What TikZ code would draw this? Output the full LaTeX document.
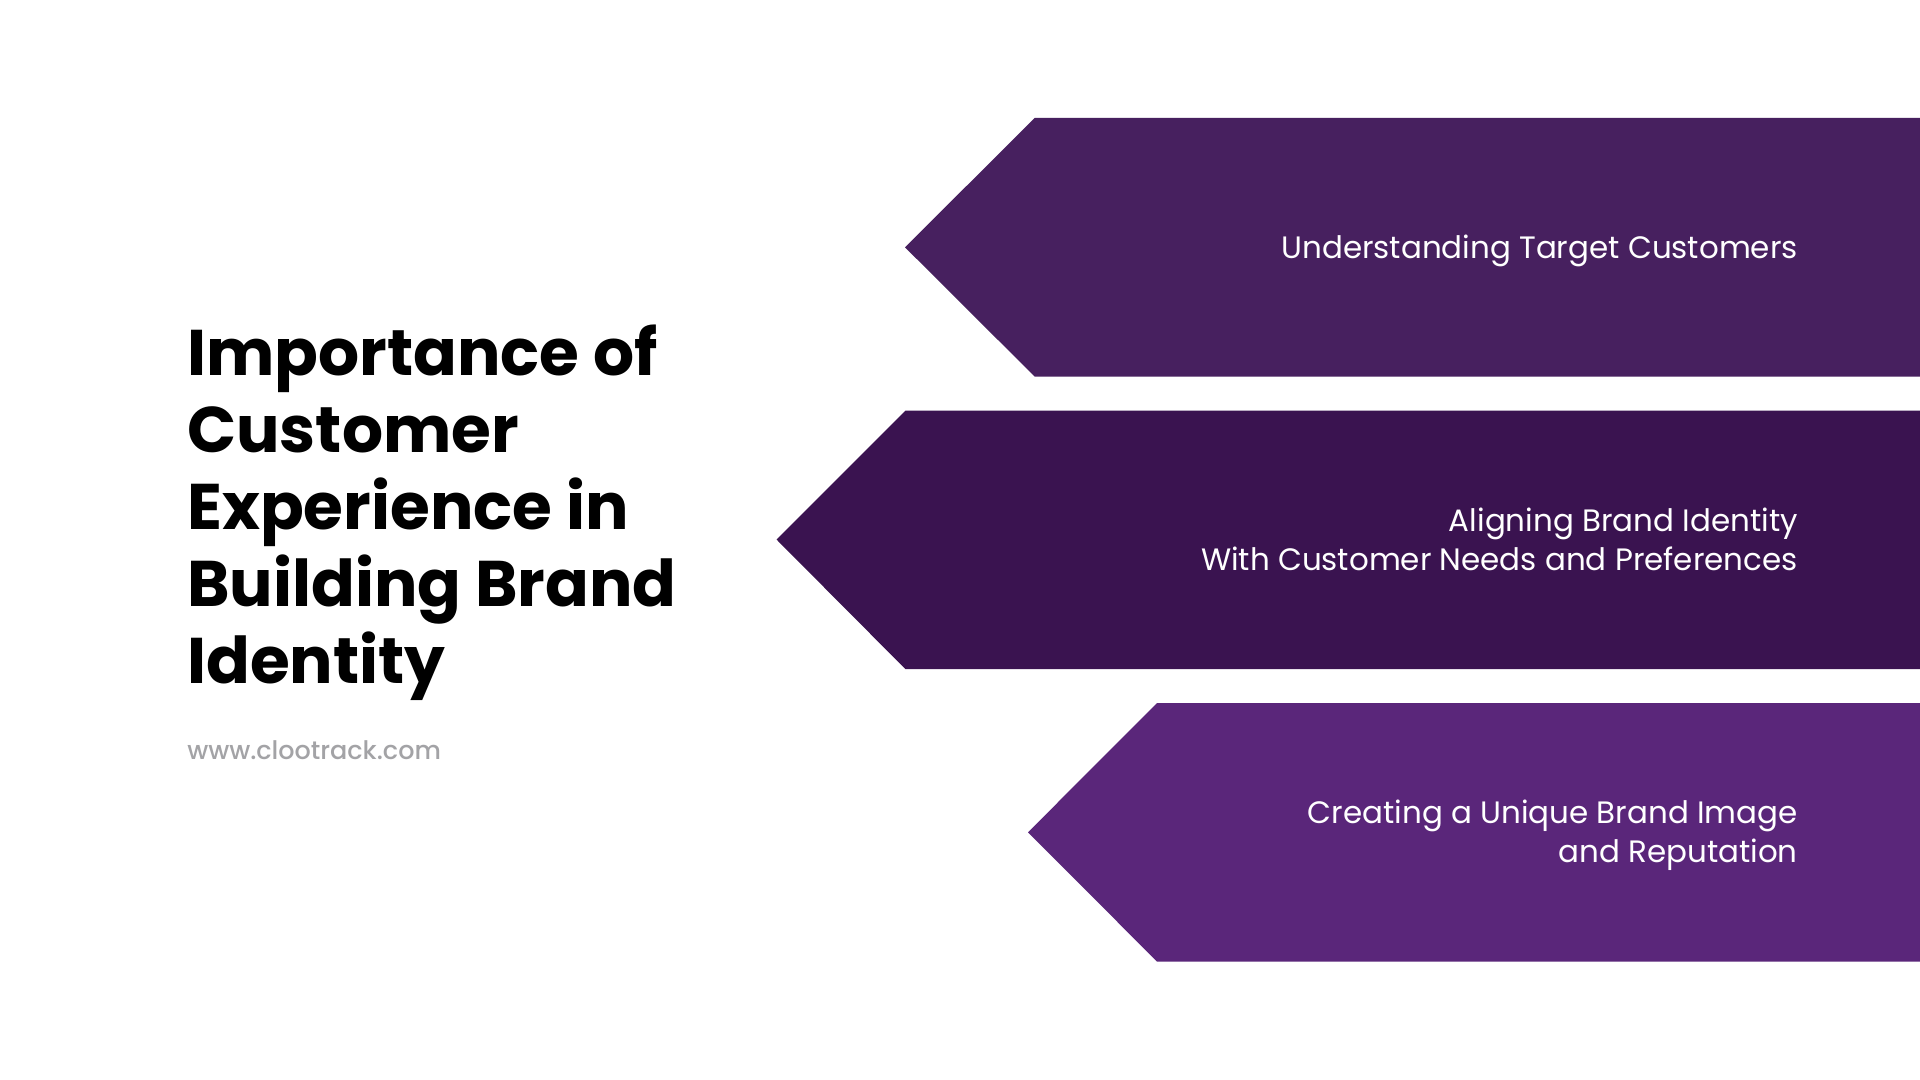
\documentclass[tikz,border=0pt]{standalone}
\usepackage{fontspec}
\setmainfont{Poppins}
\newfontfamily\titlefont{Poppins}[UprightFont=* Bold]
\newfontfamily\bodyfont{Poppins}
\newfontfamily\urlfont{Poppins}[UprightFont=* Medium]
\definecolor{bandA}{HTML}{47205F}
\definecolor{bandB}{HTML}{3A1350}
\definecolor{bandC}{HTML}{5A267A}
\definecolor{urlgray}{HTML}{A3A3A6}
\tikzset{
  x=0.75pt,y=-0.75pt,
  band/.style={fill=#1,draw=none},
  bandtext/.style={text=white,font=\bodyfont\fontsize{23.2}{29}\selectfont,align=right,anchor=base east,inner sep=0pt},
  headline/.style={text=black,font=\titlefont\fontsize{48.4}{57.6}\selectfont,align=left,anchor=base west,inner sep=0pt},
  urltext/.style={text=urlgray,font=\urlfont\fontsize{19.1}{22}\selectfont,anchor=base west,inner sep=0pt}
}
\begin{document}
\begin{tikzpicture}
\useasboundingbox (0,0) rectangle (1920,1080);
\fill[white] (0,0) rectangle (1920,1080);
\fill[band=bandA] (1920,118) -- (1034.7,118) -- (905,247.3) -- (1034.7,376.6) -- (1920,376.6) -- cycle;
\fill[band=bandB] (1920,410.6) -- (905.5,410.6) -- (776.5,539.5) -- (905.5,669.2) -- (1920,669.2) -- cycle;
\fill[band=bandC] (1920,703) -- (1157,703) -- (1028,832.3) -- (1157,961.6) -- (1920,961.6) -- cycle;
\node[headline] (title) at (187,683) {Importance of\\Customer\\Experience in\\Building Brand\\Identity};
\node[urltext] (url) at (187,759.5) {www.clootrack.com};
\node[bandtext] (l1) at (1798,259) {Understanding Target Customers};
\node[bandtext] (l2) at (1798,570) {Aligning Brand Identity\\With Customer Needs and Preferences};
\node[bandtext] (l3) at (1798,862) {Creating a Unique Brand Image\\and Reputation};
\end{tikzpicture}
\end{document}
